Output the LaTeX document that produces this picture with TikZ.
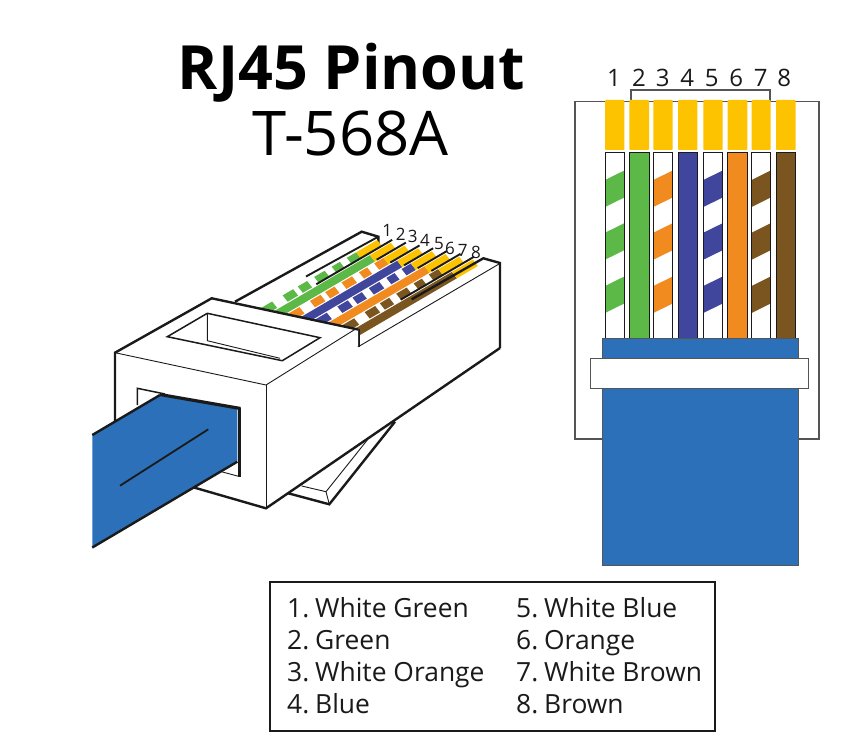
\documentclass[tikz,border=0pt]{standalone}
\usepackage{fontspec}
\setmainfont{Open Sans}
\definecolor{gold}{HTML}{FDC300}
\definecolor{wgreen}{HTML}{5DB947}
\definecolor{worange}{HTML}{F18A1F}
\definecolor{wblue}{HTML}{3F469B}
\definecolor{wbrown}{HTML}{7A5520}
\definecolor{cable}{HTML}{2C70BA}
\definecolor{ink}{HTML}{1A1A1A}
\definecolor{edge}{HTML}{555555}
\tikzset{
  thickink/.style={draw=ink,line width=2.4pt,line join=miter},
  midink/.style={draw=ink,line width=1.5pt},
  thinink/.style={draw=ink,line width=0.9pt},
  numtop/.style={font=\fontsize{24}{24}\selectfont,text=ink,inner sep=0pt},
  numiso/.style={font=\fontsize{17}{17}\selectfont,text=ink,inner sep=0pt},
  legend/.style={font=\fontsize{26.4}{26.4}\selectfont,text=ink,inner sep=0pt,anchor=base west},
}
\newcommand{\isoseg}[4]{%
  \fill[#4] ({259.3+(#1-1)*13.67+(#2)*116.7},{309+(#1-1)*2.8-(#2)*68.3})
    -- ({259.3+(#1-1)*13.67+(#2)*116.7+5},{309+(#1-1)*2.8-(#2)*68.3+6.4})
    -- ({259.3+(#1-1)*13.67+(#3)*116.7+5},{309+(#1-1)*2.8-(#3)*68.3+6.4})
    -- ({259.3+(#1-1)*13.67+(#3)*116.7},{309+(#1-1)*2.8-(#3)*68.3}) -- cycle;}
\newcommand{\isosep}[3]{%
  \draw[draw=ink,line width=1.9pt] ({259.3+(#1-1)*13.67+(#2)*116.7-1},{309+(#1-1)*2.8-(#2)*68.3-1.6})
    -- ({259.3+(#1-1)*13.67+(#3)*116.7-1},{309+(#1-1)*2.8-(#3)*68.3-1.6});}
\newcommand{\isostripes}[2]{%
  \foreach \a/\b in {-.06/.11,.2/.29,.33/.41,.47/.56,.62/.69,.75/.83}{\isoseg{#1}{\a}{\b}{#2}}}
\newcommand{\lbl}[1]{#1.\kern-1pt\ }
\begin{document}
\begin{tikzpicture}[x=1pt,y=-1pt]
\useasboundingbox (0,0) rectangle (856,754);
\fill[white] (0,0) rectangle (856,754);
% titles
\node[font=\bfseries\fontsize{61}{61}\selectfont,text=black,inner sep=0pt,anchor=base] (title) at (351.5,90) {RJ45 Pinout};
\node[font=\fontsize{61.6}{61.6}\selectfont,text=black,inner sep=0pt,anchor=base] (subtitle) at (350.5,156) {T-568A};
% ---------- right plug
\draw[edge,line width=1.2pt,fill=white] (575,101.7) rectangle (819,439);
\draw[edge,line width=1.2pt] (631,101) -- (631,90) -- (770,90) -- (770,101);
\foreach \i/\l/\r in {1/605/624.3,2/629.3/649,3/653.3/672.7,4/678/697.3,5/703.3/722.7,6/727.7/747.3,7/751.7/770.7,8/776/795.7}{
  \fill[gold,rounded corners=0.8pt] (\l,100) rectangle (\r,150);
}
\foreach \i/\x in {1/614,2/639,3/662.7,4/687.3,5/711.7,6/736.3,7/760.7,8/784.3}{
  \node[numtop,anchor=base] (n\i) at (\x,86.7) {\i};
}
% wires
\foreach \l/\r/\c in {629.3/649/wgreen,678/697.3/wblue,727.7/747.3/worange,776/795.7/wbrown}{
  \draw[ink,line width=1pt,fill=\c] (\l,152.5) rectangle (\r,338);
}
\foreach \l/\r/\c in {605/624.3/wgreen,653.3/672.7/worange,703.3/722.7/wblue,751.7/770.7/wbrown}{
  \fill[white] (\l,152.5) rectangle (\r,338);
  \foreach \y in {180,232.7,286}{
    \fill[\c] (\l,\y) -- (\r,\y-9.5) -- (\r,\y+17.5) -- (\l,\y+27) -- cycle;
  }
  \draw[ink,line width=1pt] (\l,152.5) rectangle (\r,338);
}
\draw[edge,line width=1pt,fill=cable] (602.3,338) rectangle (798.7,565);
\draw[edge,line width=1.2pt,fill=white] (590.3,358.3) rectangle (808.7,388.7);
% ---------- left plug
\draw[thickink] (235,301.7) -- (361.7,231.7) -- (378.3,236.7) -- (378.3,244);
% wires
\isostripes{1}{wgreen}
\isoseg{2}{-.06}{.83}{wgreen}
\isostripes{3}{worange}
\isoseg{4}{-.06}{.83}{wblue}
\isostripes{5}{wblue}
\isoseg{6}{-.06}{.83}{worange}
\isostripes{7}{wbrown}
\isoseg{8}{-.06}{.83}{wbrown}
\foreach \i in {1,...,8}{\isoseg{\i}{.83}{1.01}{gold}}
\isosep{2}{.38}{1.03}
\foreach \i in {3,...,7}{\isosep{\i}{.78}{1.03}}
\isosep{8}{.4}{1.03}
\draw[draw=ink,line width=1.9pt] (306,276.5) -- (378.3,236.7);
% iso labels
\foreach \i/\x/\y in {1/387.3/230.7,2/400.7/234.3,3/412.7/236.7,4/425/240.7,5/439/243.3,6/450/248.3,7/462.7/250.7,8/476/252.7}{
  \node[numiso] (m\i) at (\x,\y) {\i};
}
% right side body
\fill[white] (358.3,346.7) -- (499,264) -- (500,348) -- (266,508.3) -- (266,385) -- cycle;
\draw[thickink] (411.7,299.3) -- (483.3,258.3) -- (500,263) -- (500,348);
\draw[thinink] (358.3,346.7) -- (499,264);
\draw[thickink] (358.3,329) -- (358.3,346.7);
% latch
\fill[white] (288.3,493.3) -- (329.3,504.3) -- (395,421.7) -- cycle;
\draw[thickink] (288.3,493.3) -- (329.3,504.3) -- (395,421.7);
\draw[thinink] (301.7,486) -- (326,491.7) -- (367.3,440);
\draw[thinink] (326,491.7) -- (329.3,504.3);
% body front + top
\fill[white] (211.7,298.3) -- (358,329) -- (358,346) -- (266,508.3) -- (115,440) -- (115,352.7) -- cycle;
\draw[thickink] (115,421.7) -- (115,352.7) -- (211.7,298.3) -- (358,329.5);
\draw[thinink] (115,352.7) -- (266,385) -- (356.7,328.3);
\draw[thinink] (266,385) -- (266,508.3);
\draw[thickink] (193.3,487.3) -- (266,508.3) -- (500,348);
% top window
\draw[midink,fill=white] (167.3,336.7) -- (207.3,313.3) -- (320,337.7) -- (282.3,360.7) -- cycle;
\draw[thinink] (207.3,313.3) -- (207.3,340.7) -- (280,358.3);
% opening
\fill[white] (137.3,388.3) -- (239.3,408.3) -- (239.3,476) -- (137.3,476) -- cycle;
\draw[midink] (137.3,405) -- (137.3,388.3) -- (165,394);
\draw[thinink] (239.3,476.5) -- (215,470);
\draw[thickink] (239.3,407.5) -- (239.3,476.5);
% cable
\fill[cable] (92.3,435) -- (160,395) -- (237.3,409) -- (237.3,461.7) -- (92.3,548.3) -- cycle;
\draw[thickink] (92.3,435) -- (160,395);
\draw[draw=ink,line width=3.2pt] (160,394.5) -- (240.5,408.5);
\draw[thickink] (92.3,547.5) -- (237.3,461.7);
\draw[draw=ink,line width=1.8pt] (120,485.7) -- (208.3,429.3);
% ---------- legend
\draw[ink,line width=1.1pt] (270,582) rectangle (715,731);
\node[legend] (a1) at (287,617) {\lbl{1}White Green};
\node[legend] (a2) at (287,649) {\lbl{2}Green};
\node[legend] (a3) at (287,681) {\lbl{3}White Orange};
\node[legend] (a4) at (287,713) {\lbl{4}Blue};
\node[legend] (a5) at (516,617) {\lbl{5}White Blue};
\node[legend] (a6) at (516,649) {\lbl{6}Orange};
\node[legend] (a7) at (516,681) {\lbl{7}White Brown};
\node[legend] (a8) at (516,713) {\lbl{8}Brown};
\end{tikzpicture}
\end{document}
